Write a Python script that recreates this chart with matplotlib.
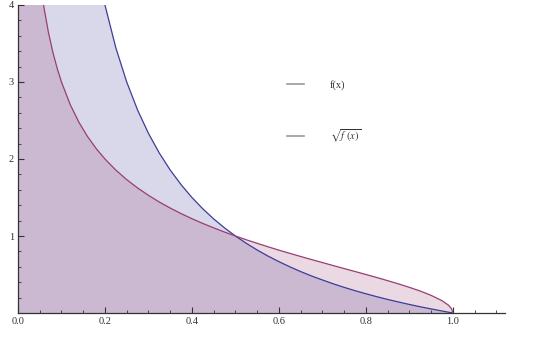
"""
Filled plot of f(x) and sqrt(f(x)) in the old Mathematica style.
"""

import matplotlib

matplotlib.use("Agg")
import matplotlib.pyplot as plt
from matplotlib.lines import Line2D
from matplotlib.ticker import MultipleLocator

# f(x) (values above 4 are clipped by the plot range)
f_x = [0.001, 0.01, 0.05, 0.1, 0.15, 0.2, 0.225, 0.25, 0.275, 0.3, 0.325, 0.35,
       0.375, 0.4, 0.425, 0.45, 0.475, 0.5, 0.525, 0.55, 0.575, 0.6, 0.625,
       0.65, 0.675, 0.7, 0.725, 0.75, 0.775, 0.8, 0.825, 0.85, 0.875, 0.9,
       0.925, 0.95, 0.975, 1.0]
f_y = [999.0, 99.0, 19.0, 9.0, 5.67, 4.000, 3.444, 3.000, 2.636, 2.333, 2.077,
       1.857, 1.667, 1.500, 1.353, 1.222, 1.105, 1.000, 0.905, 0.818, 0.739,
       0.667, 0.600, 0.538, 0.481, 0.429, 0.379, 0.333, 0.290, 0.250, 0.212,
       0.176, 0.143, 0.111, 0.081, 0.053, 0.026, 0.000]

# sqrt(f(x))
g_x = [0.001, 0.01, 0.03, 0.05, 0.06, 0.07, 0.08, 0.09, 0.10, 0.12, 0.14,
       0.16, 0.18, 0.20, 0.225, 0.25, 0.275, 0.3, 0.325, 0.35, 0.375, 0.4,
       0.425, 0.45, 0.475, 0.5, 0.525, 0.55, 0.575, 0.6, 0.625, 0.65, 0.675,
       0.7, 0.725, 0.75, 0.775, 0.8, 0.825, 0.85, 0.875, 0.9, 0.925, 0.95,
       0.975, 0.99, 0.997, 1.0]
g_y = [31.6, 9.95, 5.69, 4.36, 3.958, 3.645, 3.391, 3.180, 3.000, 2.708,
       2.478, 2.291, 2.134, 2.000, 1.856, 1.732, 1.624, 1.528, 1.441, 1.363,
       1.291, 1.225, 1.163, 1.106, 1.051, 1.000, 0.951, 0.905, 0.860, 0.816,
       0.775, 0.734, 0.694, 0.655, 0.616, 0.577, 0.539, 0.500, 0.461, 0.420,
       0.378, 0.333, 0.285, 0.229, 0.160, 0.101, 0.055, 0.000]

labels = ["f(x)", r"$\sqrt{f\ (x)}$"]
x_ticks = [0.0, 0.2, 0.4, 0.6, 0.8, 1.0]
y_ticks = [1, 2, 3, 4]

BLUE = (0.24, 0.24, 0.60)
PURPLE = (0.60, 0.24, 0.46)
AXIS_COLOR = "#333333"

plt.rcParams["font.family"] = ["Liberation Serif", "DejaVu Serif"]
plt.rcParams["mathtext.fontset"] = "stix"

fig = plt.figure(figsize=(5.4, 3.37), dpi=100)
ax = fig.add_axes([0.0333, 0.0712, 0.902, 0.914])

# Filling -> Axis, opacity 0.2, like Mathematica
ax.fill_between(f_x, 0, f_y, color=BLUE, alpha=0.2, linewidth=0)
ax.fill_between(g_x, 0, g_y, color=PURPLE, alpha=0.2, linewidth=0)
ax.plot(f_x, f_y, color=BLUE, linewidth=0.9)
ax.plot(g_x, g_y, color=PURPLE, linewidth=0.9)

ax.set_xlim(0, 1.12)
ax.set_ylim(0, 4)

for side in ("top", "right"):
    ax.spines[side].set_visible(False)
for side in ("left", "bottom"):
    ax.spines[side].set_color(AXIS_COLOR)
    ax.spines[side].set_linewidth(0.9)

ax.set_xticks(x_ticks)
ax.set_xticklabels([f"{v:.1f}" for v in x_ticks])
ax.set_yticks(y_ticks)
ax.set_yticklabels([str(v) for v in y_ticks])
ax.xaxis.set_minor_locator(MultipleLocator(0.05))
ax.yaxis.set_minor_locator(MultipleLocator(0.2))
ax.tick_params(which="major", direction="in", length=4, width=0.8,
               color=AXIS_COLOR, labelsize=7.5, labelcolor="#333333", pad=3)
ax.tick_params(which="minor", direction="in", length=2, width=0.6,
               color=AXIS_COLOR)

handles = [Line2D([], [], color="#9a9a9a", linewidth=1.2) for _ in labels]
ax.legend(handles, labels, loc="upper left", frameon=False,
          bbox_to_anchor=(0.522, 0.778), bbox_transform=fig.transFigure,
          fontsize=7.5, handlelength=1.6, handletextpad=2.5, labelspacing=3.6,
          borderpad=0, labelcolor="#333333")

plt.savefig("out.png", dpi=100)
plt.close()
